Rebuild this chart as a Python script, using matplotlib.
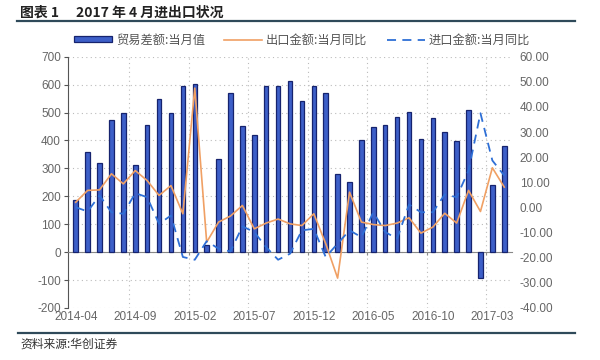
import matplotlib
matplotlib.use("Agg")
import matplotlib.pyplot as plt
import numpy as np

plt.rcParams['font.family'] = ['Noto Sans CJK SC', 'DejaVu Sans']
plt.rcParams['axes.unicode_minus'] = False

# 2014-04 .. 2017-04, monthly
months = ["2014-04", "2014-05", "2014-06", "2014-07", "2014-08", "2014-09",
          "2014-10", "2014-11", "2014-12", "2015-01", "2015-02", "2015-03",
          "2015-04", "2015-05", "2015-06", "2015-07", "2015-08", "2015-09",
          "2015-10", "2015-11", "2015-12", "2016-01", "2016-02", "2016-03",
          "2016-04", "2016-05", "2016-06", "2016-07", "2016-08", "2016-09",
          "2016-10", "2016-11", "2016-12", "2017-01", "2017-02", "2017-03",
          "2017-04"]

# 贸易差额:当月值 (left axis)
trade_balance = [185, 360, 318, 475, 499, 312, 456, 548, 499, 594, 604, 26,
                 333, 571, 452, 418, 596, 596, 614, 540, 596, 569, 280, 250,
                 400, 448, 454, 483, 501, 405, 481, 432, 399, 508, -94, 241,
                 380]

# 出口金额:当月同比 (right axis)
export_yoy = [2.1, 6.8, 7.0, 13.4, 9.4, 14.7, 10.7, 4.8, 8.7, -2.5, 47.5,
              -13.8, -5.8, -3.4, 0.8, -8.5, -6.2, -4.6, -6.5, -7.2, -2.5,
              -14.4, -28.1, 6.1, -5.8, -6.8, -7.2, -6.2, -4.1, -10.2, -7.8,
              -2.3, -6.2, 6.8, -1.6, 15.8, 8.1]

# 进口金额:当月同比 (right axis)
import_yoy = [0.1, -1.6, 4.8, -1.9, -2.5, 5.7, 4.1, -6.5, -3.2, -19.7, -20.8,
              -13.4, -16.4, -17.5, -7.5, -9.8, -15.8, -20.8, -18.4, -9.1,
              -8.5, -19.7, -14.4, -9.1, -11.8, -1.9, -9.8, -12.4, 1.2, -1.9,
              -1.9, 5.2, 4.1, 14.7, 37.5, 18.7, 12.7]

x = np.arange(len(months))
tick_idx = list(range(0, len(months), 5))

fig = plt.figure(figsize=(6, 3.6), dpi=100)
ax = fig.add_axes([68 / 600, 1 - 308 / 360, 444 / 600, 251.3 / 360])

ax.bar(x, trade_balance, width=0.38, color='#3D5FC8', edgecolor='#16236E',
       linewidth=0.9, label='贸易差额:当月值', zorder=3)
ax.set_ylim(-200, 700)
ax.set_yticks(np.arange(-200, 701, 100))
ax.set_xlim(-0.65, len(months) - 0.35)

num_font = ['Liberation Sans', 'DejaVu Sans']
for lab in ax.get_yticklabels():
    lab.set_family(num_font)
ax.tick_params(axis='y', labelsize=8.5, colors='#555555', length=3, width=0.8,
               pad=2, labelcolor='#666666')

# category axis crossing at zero, labels at the bottom
ax.spines['bottom'].set_position(('data', 0))
ax.spines['bottom'].set_color('#888888')
ax.spines['left'].set_color('#555555')
ax.spines['top'].set_visible(False)
ax.spines['right'].set_visible(False)
boundaries = [i + 4.5 for i in tick_idx[:-1]]
ax.set_xticks(boundaries)
ax.set_xticklabels([])
ax.tick_params(axis='x', length=2.5, color='#888888', width=0.8)

sec = ax.secondary_xaxis('bottom')
sec.set_xticks(tick_idx)
sec.set_xticklabels([months[i] for i in tick_idx], family=num_font)
sec.tick_params(length=0, labelsize=8.5, labelcolor='#666666', pad=2.5)
sec.spines['bottom'].set_visible(False)

ax.grid(axis='y', linestyle=(0, (1, 3)), color='#BBBBBB', linewidth=0.8, zorder=0)
for b in boundaries:
    ax.axvline(b, linestyle=(0, (1, 3)), color='#BBBBBB', linewidth=0.8, zorder=0)

ax2 = ax.twinx()
ax2.plot(x, export_yoy, color='#F0A064', linewidth=1.2, label='出口金额:当月同比', zorder=4)
ax2.plot(x, import_yoy, color='#2E6FD6', linewidth=1.3, linestyle=(0, (5, 3.5)),
         label='进口金额:当月同比', zorder=4)
ax2.set_ylim(-40, 60)
ax2.set_yticks(np.arange(-40, 61, 10))
ax2.set_yticklabels([f"{v:.2f}" for v in np.arange(-40, 61, 10)], family=num_font)
ax2.tick_params(axis='y', length=0, labelsize=8.5, labelcolor='#666666', pad=5.5)
for s in ax2.spines.values():
    s.set_visible(False)

h1, l1 = ax.get_legend_handles_labels()
h2, l2 = ax2.get_legend_handles_labels()
fig.legend(h1 + h2, l1 + l2, loc='center', bbox_to_anchor=(302 / 600, 1 - 40 / 360),
           ncol=3, frameon=False, fontsize=8.8, labelcolor='#555555',
           handlelength=3.1, handletextpad=0.3, columnspacing=1.6,
           handleheight=0.45, borderpad=0, borderaxespad=0)

fig.text(20 / 600, 1 - 12.5 / 360, '图表 1', fontsize=10, fontweight='bold',
         color='#222222', va='center', ha='left')
fig.text(76 / 600, 1 - 12.5 / 360, '2017 年 4 月进出口状况', fontsize=10,
         fontweight='bold', color='#222222', va='center', ha='left')
fig.add_artist(plt.Line2D([17 / 600, 575 / 600], [1 - 21 / 360, 1 - 21 / 360],
                          color='#2F4A5A', linewidth=1.6))
fig.add_artist(plt.Line2D([18 / 600, 575 / 600], [1 - 333 / 360, 1 - 333 / 360],
                          color='#2F4A5A', linewidth=1.6))
fig.text(20 / 600, 1 - 344 / 360, '资料来源:华创证券', fontsize=8.5, style='italic',
         color='#333333', va='center', ha='left')

fig.savefig('out.png', dpi=100)
